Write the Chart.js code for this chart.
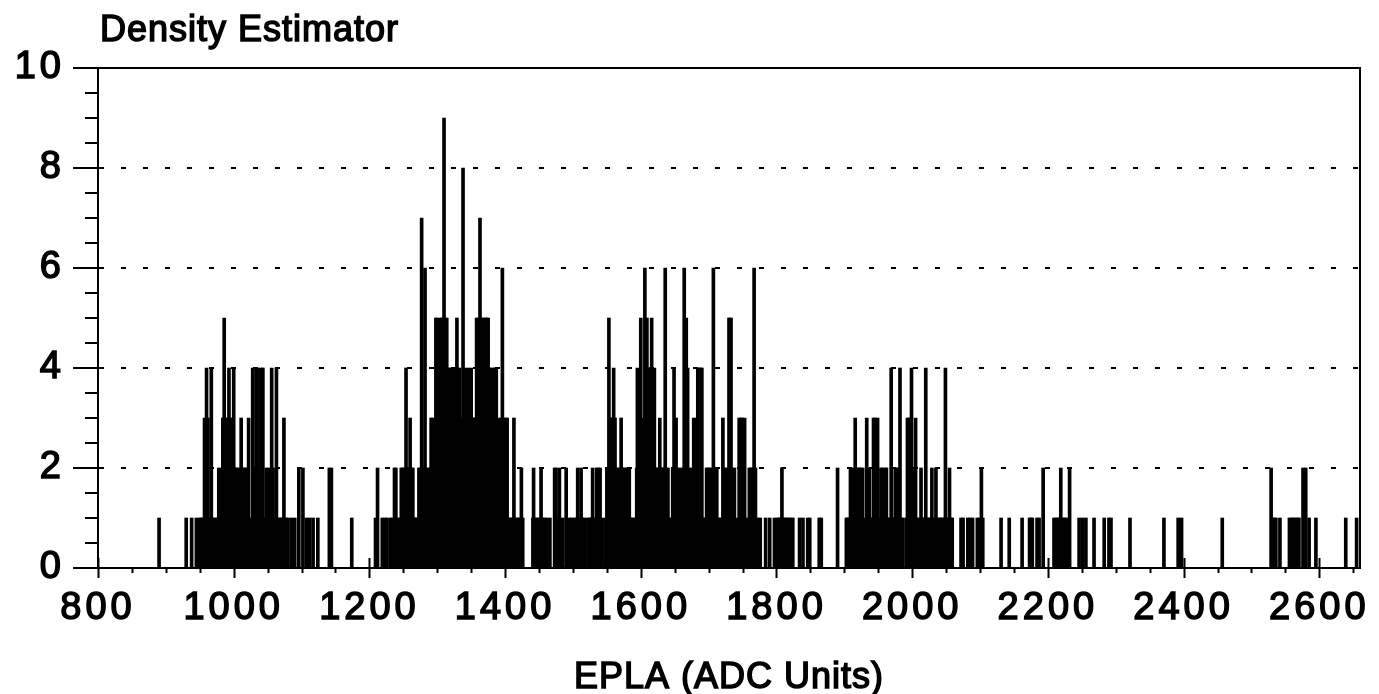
<!DOCTYPE html>
<html>
<head>
<meta charset="utf-8">
<title>Density Estimator</title>
<script src="https://cdn.jsdelivr.net/npm/chart.js@4.4.0/dist/chart.umd.min.js"></script>
<style>
    html, body { margin: 0; padding: 0; background: #fff; }
    #wrap { position: relative; width: 1379px; height: 694px; }
</style>
</head>
<body>
<div id="wrap"><canvas id="densityChart"></canvas></div>
<script>
'use strict';

// Spikes: [EPLA value (ADC units), count]
const lowPeak = [
    [890,1],[930,1],[938,1],[945,1],[950,1],[952,1],[955,1],[957,3],[960,4],[962,3],[965,1],[967,4],
    [969,1],[972,1],[975,1],[978,2],[980,1],[982,2],[984,3],[986,5],[988,3],[990,3],[993,4],[995,3],
    [997,3],[1000,4],[1002,2],[1004,1],[1006,2],[1008,2],[1011,3],[1013,2],[1015,2],[1018,2],[1020,2],
    [1022,3],[1025,1],[1028,4],[1030,2],[1033,4],[1036,4],[1038,2],[1041,4],[1043,4],[1046,1],[1048,2],
    [1051,2],[1053,1],[1056,4],[1058,2],[1060,1],[1063,4],[1066,1],[1069,1],[1071,1],[1074,3],[1077,1],
    [1080,1],[1085,1],[1090,1],[1096,2],[1102,2],[1107,1],[1112,1],[1117,1],[1124,1],[1141,2],[1144,2],
    [1174,1]
];

const mainPeak = [
    [1209,1],[1212,2],[1219,1],[1223,1],[1226,1],[1231,1],[1234,1],[1237,2],[1239,2],[1242,1],[1245,1],
    [1247,2],[1249,2],[1251,2],[1254,4],[1256,2],[1258,2],[1260,3],[1262,2],[1264,2],[1266,1],[1268,1],
    [1270,1],[1273,2],[1275,2],[1277,7],[1279,2],[1282,6],[1284,2],[1286,1],[1288,2],[1290,2],[1291,3],
    [1294,3],[1296,2],[1298,5],[1300,5],[1302,2],[1305,5],[1307,5],[1308,4],[1310,9],[1312,5],[1314,5],
    [1316,4],[1318,4],[1320,2],[1321,4],[1323,4],[1325,4],[1327,4],[1329,5],[1331,4],[1333,4],[1335,3],
    [1338,8],[1340,3],[1342,4],[1344,3],[1346,4],[1348,3],[1350,4],[1352,3],[1354,3],[1356,3],[1358,5],
    [1360,5],[1363,7],[1365,5],[1367,5],[1370,5],[1372,5],[1375,5],[1377,4],[1379,4],[1381,3],[1383,4],
    [1385,4],[1387,4],[1390,3],[1392,2],[1394,3],[1396,6],[1398,3],[1400,3],[1403,3],[1406,1],[1408,1],
    [1411,1],[1413,3],[1416,1],[1419,1],[1421,1],[1424,2],[1426,1],[1441,1],[1442,2],[1444,1],[1447,1],
    [1450,1],[1453,2],[1455,1],[1458,1],[1461,1],[1466,1],[1473,2],[1475,2],[1478,1],[1480,2],[1485,1],
    [1490,2],[1495,1],[1498,1],[1502,1],[1505,1]
];

const upperPeak = [
    [1507,2],[1509,1],[1512,2],[1514,1],[1517,1],[1522,1],[1525,1],[1527,1],[1529,2],[1531,1],[1533,1],
    [1535,2],[1537,2],[1540,2],[1543,1],[1548,1],[1550,2],[1553,5],[1555,3],[1557,3],[1559,3],[1560,4],
    [1562,3],[1564,1],[1566,2],[1568,2],[1571,3],[1573,2],[1575,2],[1577,2],[1580,2],[1583,2],[1585,1],
    [1588,1],[1591,1],[1594,2],[1595,4],[1597,2],[1600,5],[1602,2],[1604,3],[1606,6],[1608,3],[1609,5],
    [1611,3],[1613,4],[1615,3],[1616,5],[1618,3],[1620,4],[1622,2],[1624,2],[1626,2],[1628,3],[1630,2],
    [1632,2],[1634,2],[1636,6],[1638,2],[1640,2],[1642,1],[1645,1],[1647,2],[1649,4],[1652,3],[1654,2],
    [1656,1],[1658,2],[1660,1],[1662,2],[1664,6],[1667,5],[1669,4],[1671,2],[1673,1],[1675,2],[1678,3],
    [1681,3],[1684,4],[1686,4],[1688,4],[1690,4],[1692,1],[1695,1],[1697,2],[1699,2],[1701,2],[1704,2],
    [1707,6],[1709,2],[1712,2],[1715,1],[1718,1],[1721,3],[1724,2],[1727,2],[1730,5],[1733,5],[1735,2],
    [1738,2],[1741,1],[1745,3],[1747,3],[1749,3],[1751,2],[1753,3],[1756,1],[1760,2],[1762,2],[1764,2],
    [1767,6],[1769,2],[1772,1],[1776,1],[1784,1],[1790,1],[1797,1],[1801,1],[1804,1],[1806,1],[1808,2],
    [1810,1],[1813,1],[1815,1],[1818,1],[1821,1],[1824,1],[1834,1],[1839,1],[1846,1],[1849,1],[1863,1]
];

const highPeak = [
    [1866,1],[1890,2],[1903,1],[1905,1],[1907,1],[1909,2],[1911,1],[1913,2],[1916,3],[1918,2],[1920,2],
    [1922,2],[1924,2],[1927,2],[1930,1],[1933,3],[1935,1],[1937,2],[1939,1],[1941,1],[1943,3],[1945,3],
    [1947,2],[1949,3],[1952,1],[1954,2],[1956,2],[1958,1],[1960,2],[1962,2],[1964,1],[1966,1],[1969,4],
    [1971,1],[1973,1],[1975,2],[1977,2],[1979,2],[1982,4],[1984,1],[1986,1],[1991,1],[1993,3],[1995,3],
    [1997,3],[1999,4],[2001,2],[2003,1],[2005,3],[2007,1],[2010,1],[2013,2],[2015,1],[2017,1],[2020,4],
    [2022,1],[2025,1],[2027,1],[2029,2],[2032,1],[2035,2],[2037,1],[2040,1],[2042,1],[2044,1],[2047,1],
    [2049,4],[2051,1],[2053,1],[2055,2],[2057,1],[2059,1],[2072,1],[2075,1],[2082,1],[2085,1],[2089,1],
    [2096,1],[2099,1],[2102,2],[2104,1]
];

const tail = [
    [2131,1],[2143,1],[2162,1],[2173,1],[2175,1],[2177,1],[2184,1],[2187,1],[2193,2],[2209,1],[2212,1],
    [2215,1],[2217,1],[2219,2],[2222,1],[2225,1],[2227,1],[2232,2],[2246,1],[2251,1],[2256,1],[2268,1],
    [2283,1],[2290,1],[2293,1],[2321,1],[2371,1],[2392,1],[2397,1],[2457,1],[2529,2],[2531,1],[2533,1],
    [2536,1],[2542,1],[2556,1],[2559,1],[2562,1],[2565,1],[2568,1],[2570,1],[2576,2],[2580,2],[2585,1],
    [2595,1],[2639,1],[2655,1]
];

const xTickValues = [800, 1000, 1200, 1400, 1600, 1800, 2000, 2200, 2400, 2600];
const yTickValues = [0, 2, 4, 6, 8, 10];
const yGridLevels = [2, 4, 6, 8];

const chartTitle = 'Density Estimator';
const xAxisTitle = 'EPLA (ADC Units)';

const FONT = "'Liberation Sans', Arial, Helvetica, sans-serif";

document.addEventListener('DOMContentLoaded', () => {
    Chart.defaults.font.family = FONT;
    Chart.defaults.color = '#000';
    initChart();
});

// Wider glyph spacing, the scanned plot text is set loosely
const textSpacing = {
    id: 'textSpacing',
    beforeLayout(chart) { chart.ctx.letterSpacing = '4px'; },
    beforeDraw(chart) { chart.ctx.letterSpacing = '4px'; }
};

// heavy text like the photocopied original: fill plus a thin outline
function heavyText(ctx, text, x, y, size, spacing) {
    ctx.letterSpacing = spacing;
    ctx.font = size + 'px ' + FONT;
    ctx.fillStyle = '#000';
    ctx.strokeStyle = '#000';
    ctx.lineWidth = 1.5;
    ctx.fillText(text, x, y);
    ctx.strokeText(text, x, y);
}

// Frame, tick marks and the titles
const plotDecor = {
    id: 'plotDecor',
    afterDraw(chart) {
        const { ctx, chartArea: area, scales: { x, y } } = chart;
        ctx.save();
        ctx.strokeStyle = '#000';
        ctx.lineWidth = 2;
        ctx.beginPath();
        ctx.moveTo(area.left, area.top);
        ctx.lineTo(area.right, area.top);
        ctx.lineTo(area.right, area.bottom);

        for (let v = x.min; v <= x.max; v += 50) {
            const px = Math.round(x.getPixelForValue(v)) + 0.5;
            const major = v % 200 === 0;
            ctx.moveTo(px, major ? area.bottom - 10 : area.bottom);
            ctx.lineTo(px, area.bottom + (major ? 10 : 5));
        }
        for (let v = y.min; v <= y.max; v += 0.5) {
            const py = Math.round(y.getPixelForValue(v));
            const major = v % 2 === 0;
            ctx.moveTo(area.left - (major ? 25 : 13), py);
            ctx.lineTo(area.left, py);
        }
        ctx.stroke();

        ctx.textAlign = 'left';
        ctx.textBaseline = 'alphabetic';
        heavyText(ctx, chartTitle, area.left + 2, 41, 36, '1px');

        ctx.textAlign = 'center';
        ctx.textBaseline = 'middle';
        heavyText(ctx, xAxisTitle, (area.left + area.right) / 2, 678, 36, '1px');
        ctx.restore();
    }
};

function initChart() {
    const canvas = document.getElementById('densityChart');
    const spikes = [...lowPeak, ...mainPeak, ...upperPeak, ...highPeak, ...tail];

    new Chart(canvas, {
        type: 'bar',
        data: {
            datasets: [{
                label: 'Counts',
                data: spikes.map(([v, n]) => ({ x: v, y: n })),
                backgroundColor: '#000',
                borderWidth: 0,
                barThickness: 3
            }]
        },
        options: {
            responsive: true,
            maintainAspectRatio: false,
            devicePixelRatio: 1,
            animation: false,
            layout: { padding: { top: 68, right: 19, bottom: 0, left: 0 } },
            plugins: {
                legend: { display: false },
                tooltip: { enabled: false },
                title: { display: false }
            },
            scales: {
                x: {
                    type: 'linear',
                    min: 800,
                    max: 2660,
                    offset: false,
                    afterBuildTicks: (s) => { s.ticks = xTickValues.map(v => ({ value: v })); },
                    afterFit: (s) => { s.height = 126; s.paddingLeft = 0; s.paddingRight = 0; },
                    grid: { display: false, drawTicks: false, offset: false },
                    border: { display: true, color: '#000', width: 2 },
                    ticks: {
                        padding: 18,
                        maxRotation: 0,
                        autoSkip: false,
                        font: { size: 38 },
                        textStrokeColor: '#000',
                        textStrokeWidth: 1.5,
                        callback: (value) => String(value)
                    }
                },
                y: {
                    min: 0,
                    max: 10,
                    afterBuildTicks: (s) => { s.ticks = yTickValues.map(v => ({ value: v })); },
                    afterFit: (s) => { s.width = 98; s.paddingTop = 0; s.paddingBottom = 0; },
                    grid: {
                        drawTicks: false,
                        lineWidth: 2,
                        color: (c) => (c.tick && yGridLevels.includes(c.tick.value)) ? '#000' : 'rgba(0,0,0,0)'
                    },
                    border: { display: true, color: '#000', width: 2, dash: [5, 17] },
                    ticks: {
                        padding: 33,
                        font: { size: 38 },
                        textStrokeColor: '#000',
                        textStrokeWidth: 1.5,
                        callback: (value) => String(value)
                    }
                }
            }
        },
        plugins: [textSpacing, plotDecor]
    });
}
</script>
</body>
</html>
